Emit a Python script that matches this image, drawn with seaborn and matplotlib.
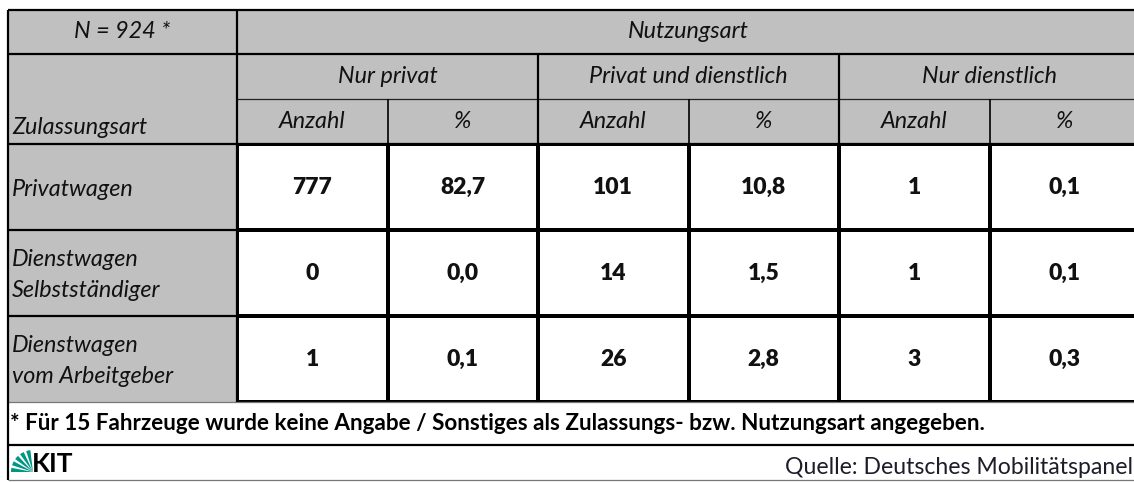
import matplotlib
matplotlib.use('Agg')
import matplotlib.pyplot as plt
from matplotlib.colors import ListedColormap
from matplotlib.patches import Rectangle, Wedge
import numpy as np
import pandas as pd
import seaborn as sns

# table content
sample_label = 'N = 924 *'
top_header = 'Nutzungsart'
row_header = 'Zulassungsart'
zulassungsart = ['Privatwagen', 'Dienstwagen\nSelbstständiger', 'Dienstwagen\nvom Arbeitgeber']
nutzungsart = ['Nur privat', 'Privat und dienstlich', 'Nur dienstlich']
sub_headers = ['Anzahl', '%']

anzahl_nur_privat = [777, 0, 1]
pct_nur_privat = [82.7, 0.0, 0.1]
anzahl_privat_dienst = [101, 14, 26]
pct_privat_dienst = [10.8, 1.5, 2.8]
anzahl_nur_dienst = [1, 1, 3]
pct_nur_dienst = [0.1, 0.1, 0.3]

footnote = '* Für 15 Fahrzeuge wurde keine Angabe / Sonstiges als Zulassungs- bzw. Nutzungsart angegeben.'
source = 'Quelle: Deutsches Mobilitätspanel'

sns.set_style('white')
plt.rcParams['font.family'] = ['Lato', 'DejaVu Sans']

W, H = 1134, 482
GRAY = '#c0c0c0'

# values table, columns interleaved as Anzahl / % per group
counts = [anzahl_nur_privat, anzahl_privat_dienst, anzahl_nur_dienst]
pcts = [pct_nur_privat, pct_privat_dienst, pct_nur_dienst]
cols, vals, annot = [], {}, {}
for grp, c, p in zip(nutzungsart, counts, pcts):
    cols += [(grp, 'Anzahl'), (grp, '%')]
    vals[(grp, 'Anzahl')] = c
    vals[(grp, '%')] = p
    annot[(grp, 'Anzahl')] = [str(v) for v in c]
    annot[(grp, '%')] = [f'{v:.1f}'.replace('.', ',') for v in p]
df = pd.DataFrame(vals, index=zulassungsart)[cols]
df_annot = pd.DataFrame(annot, index=zulassungsart)[cols]

fig = plt.figure(figsize=(W / 100, H / 100), dpi=100)

# pixel layout
x_left, x_first, col_w = 8, 237, 150.5
y_top, y_r1, y_r2, y_r3, y_data_end, y_foot, y_bottom = 10, 54, 99, 144, 402, 445, 480
n_cols = len(cols)
x_right_tab = x_first + n_cols * col_w

hm_ax = fig.add_axes([x_first / W, 1 - y_data_end / H,
                      (x_right_tab - x_first) / W, (y_data_end - y_r3) / H])
sns.heatmap(df, ax=hm_ax, cmap=ListedColormap(['white']), cbar=False,
            annot=df_annot, fmt='', linewidths=1.5, linecolor='black',
            xticklabels=False, yticklabels=False,
            annot_kws=dict(fontsize=16.5, fontweight='heavy', color='#111111'))
hm_ax.set_xlabel('')
hm_ax.set_ylabel('')

ax = fig.add_axes([0, 0, 1, 1], facecolor='none')
ax.set_xlim(0, W)
ax.set_ylim(H, 0)
ax.axis('off')

# grey header areas
ax.add_patch(Rectangle((x_left, y_top), W - x_left, y_r3 - y_top, facecolor=GRAY, edgecolor='none'))
ax.add_patch(Rectangle((x_left, y_r3), x_first - x_left, y_data_end - y_r3, facecolor=GRAY, edgecolor='none'))

thick, thin = 1.6, 0.9
row_h = (y_data_end - y_r3) / len(zulassungsart)
ax.hlines([y_top, y_r1, y_r3, y_foot], x_left, W, color='black', lw=thick)
ax.hlines([y_r3 + row_h * i for i in range(1, len(zulassungsart))], x_left, x_first, color='black', lw=thick)
ax.hlines(y_r2, x_first, W, color='#222222', lw=thin)
ax.hlines([y_data_end, y_bottom], x_left, W, color='#777777', lw=thin)
ax.vlines(x_left, y_top, y_bottom, color='black', lw=thick)
ax.vlines(x_first, y_top, y_data_end, color='black', lw=thick)
grp_x = [x_first + 2 * col_w * i for i in range(1, len(nutzungsart))]
ax.vlines(grp_x, y_r1, y_data_end, color='black', lw=thick)
sub_x = [x_first + col_w * (2 * i + 1) for i in range(len(nutzungsart))]
ax.vlines(sub_x, y_r2, y_r3, color='black', lw=1.2)

hdr = dict(fontsize=16.8, style='italic', color='#111111', va='center')
ax.text((x_left + x_first) / 2, (y_top + y_r1) / 2, sample_label, ha='center', **hdr)
ax.text((x_first + x_right_tab) / 2, (y_top + y_r1) / 2, top_header, ha='center', **hdr)
ax.text(x_left + 4, y_r3 - 16, row_header, ha='left', **hdr)
for i, grp in enumerate(nutzungsart):
    gx = x_first + 2 * col_w * i
    ax.text(gx + col_w, (y_r1 + y_r2) / 2, grp, ha='center', **hdr)
    for j, sub in enumerate(sub_headers):
        ax.text(gx + col_w * (j + 0.5), (y_r2 + y_r3) / 2, sub, ha='center', **hdr)
for i, lab in enumerate(zulassungsart):
    ax.text(x_left + 4, y_r3 + row_h * (i + 0.5) + 2, lab, ha='left', linespacing=1.55, **hdr)

ax.text(x_left + 2, (y_data_end + y_foot) / 2, footnote, ha='left', va='center',
        fontsize=16.2, fontweight='bold', color='black')
ax.text(W - 1, 467, source, ha='right', va='center', fontsize=16.6, color='#1c1c2a')

# KIT logo
cx, cy, r = 33, 472, 22
for k in range(5):
    t1 = 180 + k * 18
    ax.add_patch(Wedge((cx, cy), r, t1, t1 + 11, facecolor='#009682', edgecolor='none'))
ax.text(32, 472, 'KIT', ha='left', va='baseline', fontsize=19, fontweight='bold',
        family=['Liberation Sans Narrow', 'Lato'], color='black')

fig.savefig('out.png', dpi=100)
